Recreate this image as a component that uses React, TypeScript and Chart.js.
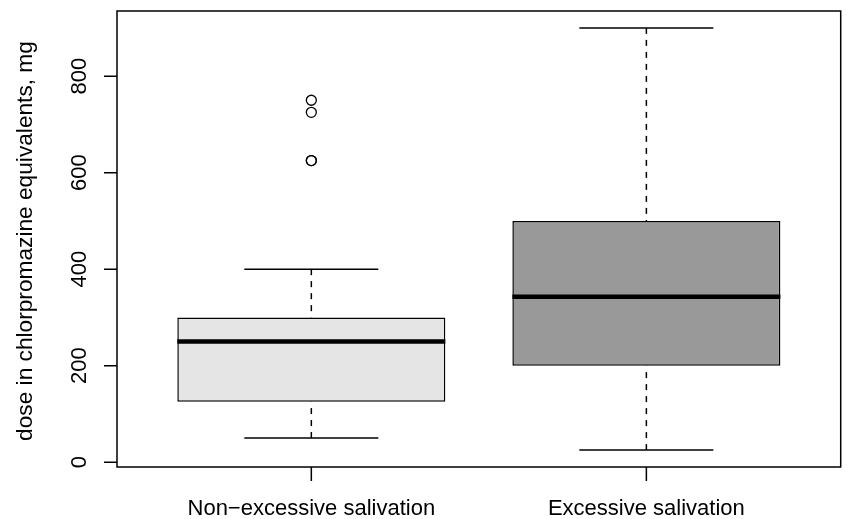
import { useEffect, useRef } from "react";
import { Chart, registerables } from "chart.js";

Chart.register(...registerables);

// ---- data ----
const categories = ["Non\u2212excessive salivation", "Excessive salivation"];
const whiskerLow = [50, 25];
const q1 = [125, 200];
const median = [250, 343];
const q3 = [300, 500];
const whiskerHigh = [400, 900];
const outliers: number[][] = [[750, 725, 625, 625], []];
const yTicks = [0, 200, 400, 600, 800];
const boxFill = ["#e5e5e5", "#999999"];
const yTitle = "dose in chlorpromazine equivalents, mg";

const xPositions = categories.map((_, i) => i + 1);

const FONT = '22px "Liberation Sans", Arial, Helvetica, sans-serif';
const TITLE_FONT = '22.7px "Liberation Sans", Arial, Helvetica, sans-serif';

const rAxesPlugin = {
  id: "rAxes",
  afterDraw(chart: any) {
    const { ctx, chartArea: a, scales } = chart;
    const x = scales.x;
    const y = scales.y;
    ctx.save();
    ctx.strokeStyle = "#000";
    ctx.fillStyle = "#000";
    ctx.lineWidth = 1.5;
    ctx.strokeRect(a.left, a.top, a.right - a.left, a.bottom - a.top);
    ctx.beginPath();
    yTicks.forEach((v) => {
      const p = y.getPixelForValue(v);
      ctx.moveTo(a.left - 13, p);
      ctx.lineTo(a.left, p);
    });
    xPositions.forEach((v) => {
      const p = x.getPixelForValue(v);
      ctx.moveTo(p, a.bottom);
      ctx.lineTo(p, a.bottom + 14);
    });
    ctx.stroke();

    ctx.font = FONT;
    ctx.textAlign = "center";
    ctx.textBaseline = "alphabetic";
    yTicks.forEach((v) => {
      ctx.save();
      ctx.translate(a.left - 31, y.getPixelForValue(v));
      ctx.rotate(-Math.PI / 2);
      ctx.fillText(String(v), 0, 0);
      ctx.restore();
    });
    categories.forEach((c, i) => {
      ctx.fillText(c, x.getPixelForValue(xPositions[i]), a.bottom + 48);
    });
    ctx.save();
    ctx.font = TITLE_FONT;
    ctx.translate(a.left - 85, (a.top + a.bottom) / 2 + 2);
    ctx.rotate(-Math.PI / 2);
    ctx.fillText(yTitle, 0, 0);
    ctx.restore();
    ctx.restore();
  },
};

export default function App() {
  const ref = useRef<HTMLCanvasElement>(null);

  useEffect(() => {
    const canvas = ref.current;
    if (!canvas) return;

    const allValues = [...whiskerLow, ...whiskerHigh, ...outliers.flat()];
    const dMin = Math.min(...allValues);
    const dMax = Math.max(...allValues);
    const yPad = (dMax - dMin) * 0.04;
    const xLo = 0.5;
    const xHi = categories.length + 0.5;
    const xPad = (xHi - xLo) * 0.04;

    const datasets: any[] = [];
    datasets.push({
      type: "bar",
      data: xPositions.map((x, i) => ({ x, y: [q1[i], q3[i]] })),
      backgroundColor: boxFill,
      borderColor: "#000",
      borderWidth: 1.5,
      borderSkipped: false,
      categoryPercentage: 1,
      barPercentage: 0.8,
      order: 4,
    });
    xPositions.forEach((x, i) => {
      const whiskers: [number, number][] = [
        [whiskerHigh[i], q3[i]],
        [whiskerLow[i], q1[i]],
      ];
      whiskers.forEach(([a, b]) => {
        datasets.push({
          type: "line",
          data: [
            { x, y: a },
            { x, y: b },
          ],
          borderColor: "#000",
          borderWidth: 1.5,
          borderDash: [6, 6],
          pointRadius: 0,
          order: 3,
        });
      });
      [whiskerHigh[i], whiskerLow[i]].forEach((v) => {
        datasets.push({
          type: "line",
          data: [
            { x: x - 0.2, y: v },
            { x: x + 0.2, y: v },
          ],
          borderColor: "#000",
          borderWidth: 1.5,
          pointRadius: 0,
          order: 2,
        });
      });
      datasets.push({
        type: "line",
        data: [
          { x: x - 0.4, y: median[i] },
          { x: x + 0.4, y: median[i] },
        ],
        borderColor: "#000",
        borderWidth: 4.5,
        borderCapStyle: "butt",
        pointRadius: 0,
        order: 1,
      });
    });
    datasets.push({
      type: "scatter",
      data: outliers.flatMap((arr, i) => arr.map((v) => ({ x: xPositions[i], y: v }))),
      pointStyle: "circle",
      pointRadius: 5,
      borderColor: "#000",
      backgroundColor: "rgba(0,0,0,0)",
      borderWidth: 1.3,
      order: 0,
    });

    const chart = new Chart(canvas, {
      type: "bar",
      data: { datasets },
      options: {
        animation: false,
        responsive: false,
        layout: { padding: { left: 117, top: 11, right: 4, bottom: 52 } },
        plugins: { legend: { display: false }, tooltip: { enabled: false } },
        scales: {
          x: {
            type: "linear",
            min: xLo - xPad,
            max: xHi + xPad,
            offset: false,
            display: false,
            afterBuildTicks: (s: any) => {
              s.ticks = xPositions.map((v) => ({ value: v }));
            },
          },
          y: {
            type: "linear",
            min: dMin - yPad,
            max: dMax + yPad,
            display: false,
          },
        },
      } as any,
      plugins: [rAxesPlugin],
    });
    return () => chart.destroy();
  }, []);

  return (
    <div style={{ position: "absolute", left: 0, top: 0, width: 847, height: 519, background: "#fff" }}>
      <canvas ref={ref} width={847} height={519} style={{ display: "block" }} />
    </div>
  );
}
